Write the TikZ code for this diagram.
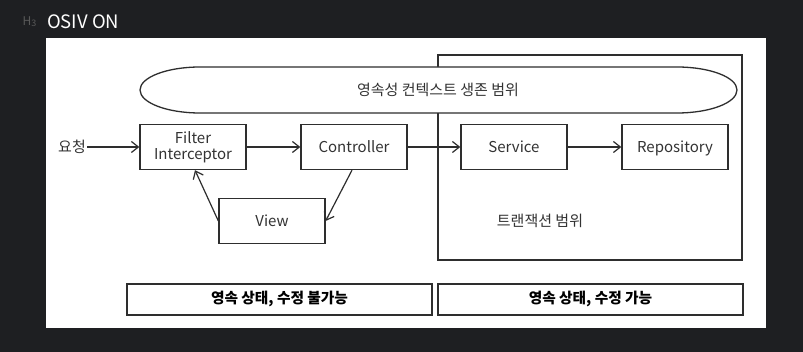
\documentclass[tikz,border=0pt]{standalone}
\usepackage{fontspec}
\setmainfont{Noto Sans CJK KR}
\usetikzlibrary{arrows.meta, positioning, shadows}
\definecolor{bgdark}{HTML}{1E1F22}
\definecolor{linec}{HTML}{2E2E2E}
\definecolor{txtc}{HTML}{333333}
\tikzset{
  blkbase/.style={draw=linec, line width=1.3pt, fill=white, minimum width=106pt, minimum height=45pt, inner sep=0pt, align=center, text=txtc, font=\fontsize{15}{16}\selectfont},
  blk/.style={blkbase, text height=11pt, text depth=0pt},
  stbox/.style={draw=linec, line width=1.3pt, fill=white, minimum width=305pt, minimum height=31pt, inner sep=0pt, text height=11pt, text depth=2pt, text=black, font=\fontsize{14.7}{16}\selectfont\bfseries},
  flow/.style={-{Straight Barb[length=7pt, width=11pt, line width=1.2pt]}, draw=linec, line width=1.2pt},
  lab/.style={text=txtc, font=\fontsize{15}{16}\selectfont, inner sep=1pt}
}
\begin{document}
\begin{tikzpicture}[x=1pt, y=-1pt]
	\useasboundingbox (0,0) rectangle (803,352);
	\fill[bgdark] (0,0) rectangle (803,352);
	\fill[white] (46,38) rectangle (766,328);
	% heading
	\node[anchor=east, text=gray!70!black, font=\fontsize{12}{12}\selectfont] (h3) at (40,22) {H\raisebox{-1pt}{\fontsize{9}{9}\selectfont 3}};
	\node[anchor=west, text=white, font=\fontsize{18.5}{18.5}\selectfont, inner sep=1pt] (title) at (46,22) {OSIV ON};
	% transaction scope
	\node[draw=linec, line width=1.3pt, fill=white, minimum width=304pt, minimum height=205pt, inner sep=0pt,
	  drop shadow={opacity=0.35, shadow xshift=1pt, shadow yshift=-1.5pt}] (txn) at (590,157.5) {};
	\node[lab] (txnlab) at (540,221) {트랜잭션 범위};
	% persistence context scope
	\draw[linec, line width=1.3pt, fill=white] (200,67) -- (677,67) arc[start angle=90, end angle=-90, x radius=60, y radius=-23]
	  -- (200,113) arc[start angle=270, end angle=90, x radius=60, y radius=-23] -- cycle;
	\node[lab] (ctx) at (438,90) {영속성 컨텍스트 생존 범위};
	% request flow
	\node[lab] (req) at (72,147) {요청};
	\node[blkbase] (filt) at (193,147) {Filter\\Interceptor};
	\node[blk] (ctrl) at (354,147) {Controller};
	\node[blk] (svc) at (514,147) {Service};
	\node[blk] (repo) at (675,147) {Repository};
	\node[blk] (view) at (272,221) {View};
	\draw[flow] (req) -- (filt);
	\draw[flow] (filt) -- (ctrl);
	\draw[flow] (ctrl) -- (svc);
	\draw[flow] (svc) -- (repo);
	\draw[flow] (ctrl.south) ++(-2,0) -- (view.east);
	\draw[flow] (view.west) -- ([xshift=2pt]filt.south);
	% states
	\node[stbox] (lstate) at (279.5,299.5) {영속 상태, 수정 불가능};
	\node[stbox] (rstate) at (590.5,299.5) {영속 상태, 수정 가능};
\end{tikzpicture}
\end{document}
